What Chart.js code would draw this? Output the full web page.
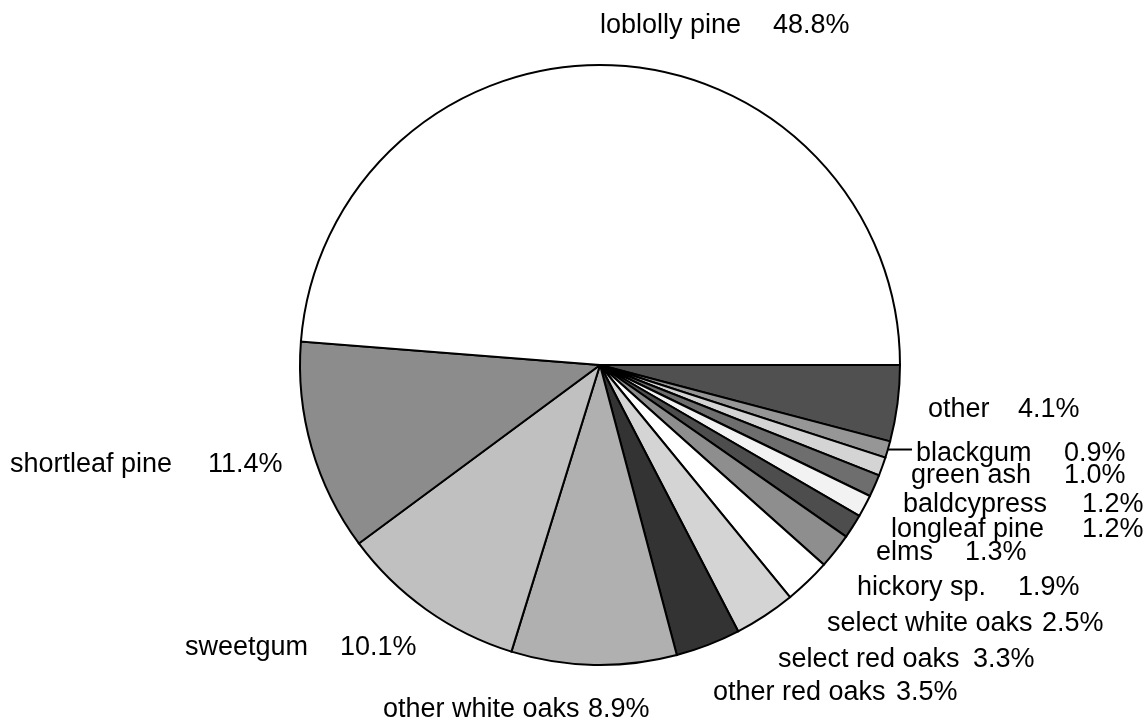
<!DOCTYPE html>
<html>
<head>
<meta charset="utf-8">
<title>Species share</title>
<script src="https://cdn.jsdelivr.net/npm/chart.js@4/dist/chart.umd.min.js"></script>
<style>
  html, body { margin: 0; padding: 0; background: #ffffff; }
  #wrap { width: 1144px; height: 721px; }
</style>
</head>
<body>
<div id="wrap"><canvas id="pie" width="1144" height="721"></canvas></div>
<script>
// Species, listed counter-clockwise from the 3 o'clock position
const species = [
  'loblolly pine', 'shortleaf pine', 'sweetgum', 'other white oaks',
  'other red oaks', 'select red oaks', 'select white oaks', 'hickory sp.',
  'elms', 'longleaf pine', 'baldcypress', 'green ash', 'blackgum', 'other'
];
const percents = [48.8, 11.4, 10.1, 8.9, 3.5, 3.3, 2.5, 1.9, 1.3, 1.2, 1.2, 1.0, 0.9, 4.1];
const valueLabels = ['48.8%', '11.4%', '10.1%', '8.9%', '3.5%', '3.3%', '2.5%', '1.9%',
                     '1.3%', '1.2%', '1.2%', '1.0%', '0.9%', '4.1%'];

// Grey fill per species (same order)
const fills = [
  '#ffffff', '#8c8c8c', '#c0c0c0', '#b0b0b0',
  '#333333', '#d4d4d4', '#ffffff', '#8e8e8e',
  '#4d4d4d', '#f2f2f2', '#6e6e6e', '#d4d4d4', '#969696', '#505050'
];

// Text placement for each label: name x, value x, baseline y
const labelLayout = [
  { x: 600, vx: 773, y: 33 },
  { x: 10, vx: 208, y: 472 },
  { x: 185, vx: 340, y: 655 },
  { x: 383, vx: 588, y: 717 },
  { x: 713, vx: 896, y: 700 },
  { x: 778, vx: 973, y: 667 },
  { x: 827, vx: 1042, y: 631 },
  { x: 857, vx: 1018, y: 595 },
  { x: 876, vx: 965, y: 560 },
  { x: 891, vx: 1082, y: 537 },
  { x: 903, vx: 1082, y: 512 },
  { x: 911, vx: 1064, y: 483 },
  { x: 916, vx: 1064, y: 461 },
  { x: 928, vx: 1018, y: 417 }
];
const leaderFor = 'blackgum';

// Chart.js sweeps clockwise, so feed the slices in reverse order
const order = species.map((_, i) => i).reverse();
const drawLabels = order.map(i => species[i]);
const drawValues = order.map(i => percents[i]);
const drawFills = order.map(i => fills[i]);

const FONT = '27px "Liberation Sans", Arial, sans-serif';

const sliceLabels = {
  id: 'sliceLabels',
  afterDraw(chart) {
    const ctx = chart.ctx;
    const meta = chart.getDatasetMeta(0);
    ctx.save();
    ctx.font = FONT;
    ctx.fillStyle = '#000000';
    ctx.textBaseline = 'alphabetic';
    ctx.textAlign = 'left';
    species.forEach((name, i) => {
      const pos = labelLayout[i];
      ctx.fillText(name, pos.x, pos.y);
      ctx.fillText(valueLabels[i], pos.vx, pos.y);
    });
    // leader line from the thin slice edge to its label
    const di = drawLabels.indexOf(leaderFor);
    const arc = meta.data[di];
    const mid = (arc.startAngle + arc.endAngle) / 2;
    const sx = arc.x + Math.cos(mid) * arc.outerRadius;
    const sy = arc.y + Math.sin(mid) * arc.outerRadius;
    const li = species.indexOf(leaderFor);
    ctx.strokeStyle = '#000000';
    ctx.lineWidth = 2;
    ctx.beginPath();
    ctx.moveTo(sx, sy);
    ctx.lineTo(labelLayout[li].x - 4, sy);
    ctx.stroke();
    ctx.restore();
  }
};

new Chart(document.getElementById('pie'), {
  type: 'pie',
  data: {
    labels: drawLabels,
    datasets: [{
      data: drawValues,
      backgroundColor: drawFills,
      borderColor: '#000000',
      borderWidth: 2,
      borderJoinStyle: 'miter'
    }]
  },
  options: {
    responsive: false,
    animation: false,
    rotation: 90,
    radius: 300,
    layout: { padding: { left: 300, right: 244, top: 65, bottom: 56 } },
    plugins: {
      legend: { display: false },
      tooltip: { enabled: false }
    }
  },
  plugins: [sliceLabels]
});
</script>
</body>
</html>
